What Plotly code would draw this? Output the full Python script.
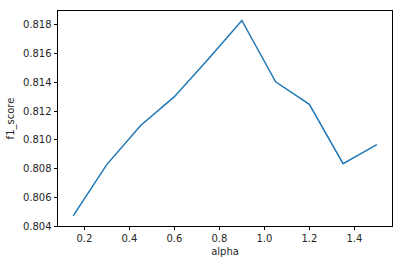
import plotly.graph_objects as go

alpha = [0.15, 0.30, 0.45, 0.60, 0.75, 0.90, 1.05, 1.20, 1.35, 1.50]
f1_score = [0.80471, 0.80829, 0.81099, 0.81300, 0.81560, 0.81830, 0.81403, 0.81247, 0.80834, 0.80966]

x_ticks = [0.2, 0.4, 0.6, 0.8, 1.0, 1.2, 1.4]
y_ticks = [0.804, 0.806, 0.808, 0.810, 0.812, 0.814, 0.816, 0.818]

fig = go.Figure(go.Scatter(x=alpha, y=f1_score, mode="lines",
                           line=dict(color="#1f77b4", width=1.5)))

font = dict(family="DejaVu Sans", size=10, color="#262626")
axis_common = dict(showline=True, linecolor="black", linewidth=0.8, mirror=True,
                   ticks="outside", ticklen=3.5, tickwidth=0.8, tickcolor="black",
                   showgrid=False, zeroline=False, tickfont=font)

fig.update_layout(
    width=404, height=265,
    margin=dict(l=57, r=12, t=10, b=36),
    paper_bgcolor="white", plot_bgcolor="white",
    showlegend=False,
    xaxis=dict(range=[0.0825, 1.5675], tickvals=x_ticks,
               ticktext=[f"{v:.1f}" for v in x_ticks],
               title=dict(text="alpha", font=font, standoff=4), **axis_common),
    yaxis=dict(range=[0.804, 0.81896], tickvals=y_ticks,
               ticktext=[f"{v:.3f}" for v in y_ticks],
               title=dict(text="f1_score", font=font, standoff=6), **axis_common),
)

fig.write_html("out.html")
